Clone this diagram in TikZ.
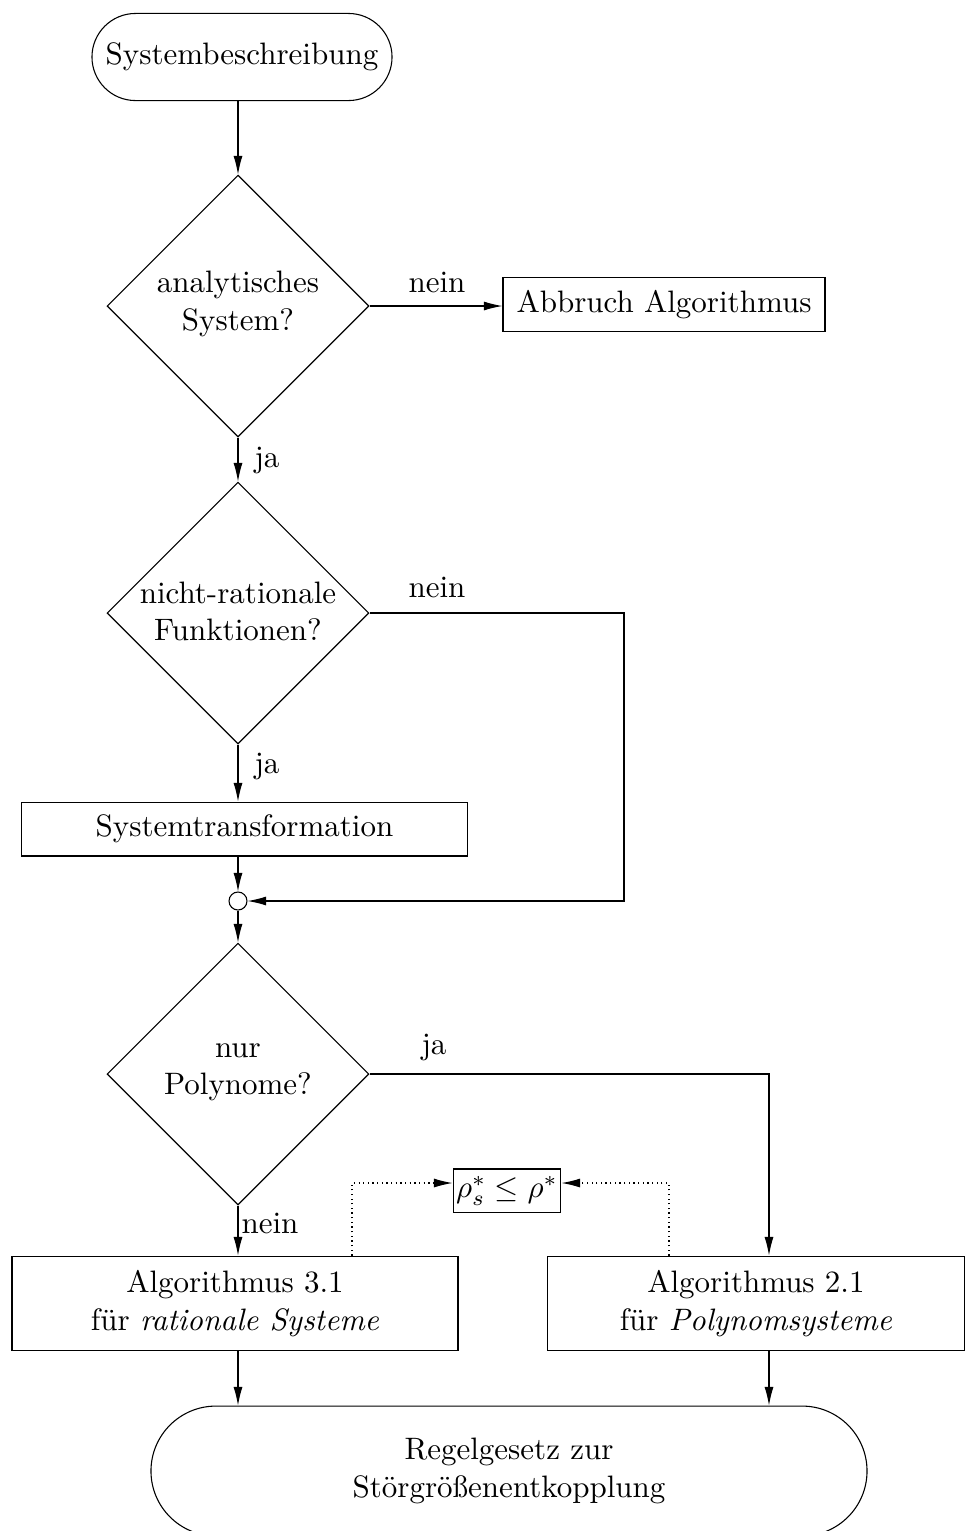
\documentclass[tikz,border=0pt]{standalone}
\usepackage{fontspec}
\usetikzlibrary{shapes.geometric,shapes.misc,arrows.meta}
\begin{document}
\begin{tikzpicture}[x=0.3226pt,y=-0.3226pt,
  line width=0.35pt,
  >={Latex[length=6pt,width=2.9pt]},
  every node/.style={font=\fontsize{10}{12}\selectfont},
  term/.style={draw, rounded rectangle, inner sep=0pt, align=center},
  dec/.style={draw, diamond, aspect=1, minimum width=84.5pt, minimum height=84.5pt, inner sep=0pt},
  dectext/.style={align=center, inner sep=0pt},
  box/.style={draw, rectangle, inner sep=0pt, align=center},
  lbl/.style={inner sep=0pt},
  dotline/.style={dash pattern=on 0.4pt off 1.1pt}
]
\useasboundingbox (0,0) rectangle (979,1531);

\node[term, minimum width=96.8pt, minimum height=28.1pt] (start) at (242,57) {Systembeschreibung};
\node[dec] (d1) at (238,306) {};
\node[dectext] (d1t) at (238,304) {analytisches\\System?};
\node[box, minimum width=103.9pt, minimum height=17.7pt] (abb) at (664,304.5) {Abbruch Algorithmus};
\node[dec] (d2) at (238,613) {};
\node[dectext] (d2t) at (238,611) {nicht-rationale\\Funktionen?};
\node[box, minimum width=143.6pt, minimum height=17.4pt] (st) at (244.5,829) {Systemtransformation};
\node[draw, circle, minimum size=5.8pt, inner sep=0pt] (j) at (238,901) {};
\node[dec] (d3) at (238,1074) {};
\node[dectext] (d3t) at (238,1072) {nur\\Polynome?};
\node[box, minimum width=143.9pt, minimum height=30.6pt] (a31) at (235,1303.5) {Algorithmus 3.1\\für \textit{rationale Systeme}};
\node[box, minimum width=134.8pt, minimum height=30.6pt] (a21) at (756,1303.5) {Algorithmus 2.1\\für \textit{Polynomsysteme}};
\node[box, minimum width=34.8pt, minimum height=13.9pt] (rho) at (507,1190.5) {$\rho_s^*\le\rho^*$};
\node[term, minimum width=231pt, minimum height=41.9pt] (end) at (509,1471) {Regelgesetz zur\\Störgrößenentkopplung};

\coordinate (r2) at (624,901);
\coordinate (r3) at (769,1074);
\coordinate (lu) at (352,1183);
\coordinate (ru) at (669,1183);

\draw[->] (d1.north |- start.south) -- (d1.north);
\draw[->] (d1.east) -- (d1.east -| abb.west);
\draw[->] (d1.south) -- (d2.north);
\draw[->] (d2.south) -- (d2.south |- st.north);
\draw[->] (d2.south |- st.south) -- (j.north);
\draw[->] (d2.east) -| (r2) -- (j.east);
\draw[->] (j.south) -- (d3.north);
\draw[->] (d3.south) -- (d3.south |- a31.north);
\draw[->] (d3.east) -- (r3) -- (r3 |- a21.north);
\draw[->] (d3.south |- a31.south) -- (d3.south |- end.north);
\draw[->] (r3 |- a21.south) -- (r3 |- end.north);
\draw[->, dotline] (lu |- a31.north) -- (lu) -- (lu -| rho.west);
\draw[->, dotline] (ru |- a21.north) -- (ru) -- (ru -| rho.east);

\node[lbl] (n1) at (437,282) {nein};
\node[lbl] (y1) at (267,460) {ja};
\node[lbl] (n2) at (437,587) {nein};
\node[lbl] (y2) at (267,766) {ja};
\node[lbl] (y3) at (434,1047) {ja};
\node[lbl] (n3) at (270,1223) {nein};
\end{tikzpicture}
\end{document}
